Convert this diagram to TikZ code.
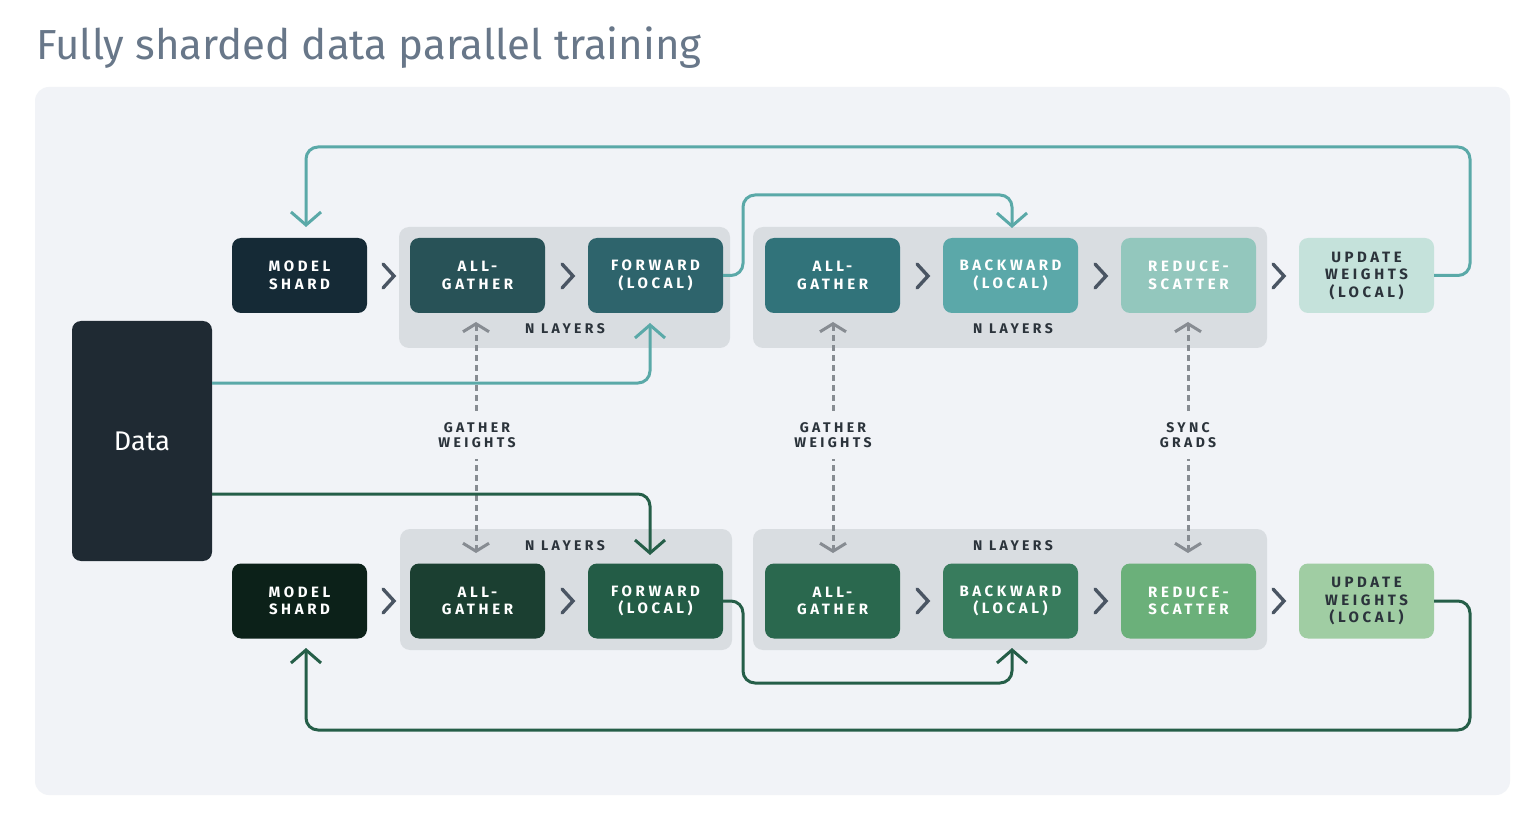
\documentclass[tikz,border=0pt]{standalone}
\usepackage{fontspec}
\setmainfont{Fira Sans}
\newfontfamily\spfont[LetterSpace=24]{Fira Sans}
\newfontfamily\sqfont[LetterSpace=24]{Fira Sans}
\usetikzlibrary{arrows.meta,calc}
\definecolor{bgpanel}{HTML}{F1F3F7}
\definecolor{grp}{HTML}{D9DDE1}
\definecolor{titlec}{HTML}{687789}
\definecolor{chevc}{HTML}{4A5563}
\definecolor{tealline}{HTML}{5AA9A8}
\definecolor{greenline}{HTML}{255E48}
\definecolor{dashc}{HTML}{878C92}
\definecolor{lbl}{HTML}{2B333B}
\definecolor{dataC}{HTML}{1F2A33}
\definecolor{tA}{HTML}{152A36}
\definecolor{tB}{HTML}{285257}
\definecolor{tC}{HTML}{2E646C}
\definecolor{tD}{HTML}{31737A}
\definecolor{tE}{HTML}{5BA8A9}
\definecolor{tF}{HTML}{93C7BD}
\definecolor{tG}{HTML}{C5E2DB}
\definecolor{gA}{HTML}{0C2119}
\definecolor{gB}{HTML}{1B3F31}
\definecolor{gC}{HTML}{235C46}
\definecolor{gD}{HTML}{2A684E}
\definecolor{gE}{HTML}{387C5D}
\definecolor{gF}{HTML}{6BB07A}
\definecolor{gG}{HTML}{A0CDA3}
\tikzset{
  box/.style={rounded corners=9pt, minimum width=135pt, minimum height=75pt, inner sep=0pt,
    text=white, align=center, font=\fontsize{15}{17.5}\selectfont\spfont\bfseries},
  grpbox/.style={fill=grp, rounded corners=10pt},
  nl/.style={text=lbl, font=\fontsize{14}{15}\selectfont\sqfont\bfseries, inner sep=0pt},
  wl/.style={text=lbl, font=\fontsize{14}{15}\selectfont\sqfont\bfseries, fill=bgpanel, align=center, inner sep=0pt, minimum height=48pt, minimum width=80pt},
  conn/.style={line width=3pt, rounded corners=12pt, -{Straight Barb[length=13pt,width=30pt]}},
  tl/.style={conn, draw=tealline},
  gl/.style={conn, draw=greenline},
  dsh/.style={line width=3pt, draw=dashc, dash pattern=on 6pt off 4pt,
    {Straight Barb[length=8pt,width=26pt]}-{Straight Barb[length=8pt,width=26pt]}},
  chev/.pic={\draw[chevc, line width=3.4pt, line cap=round, line join=miter] (-5,-12) -- (6,0) -- (-5,12);}
}
\begin{document}
\begin{tikzpicture}[x=1pt,y=-1pt]
\useasboundingbox (0,0) rectangle (1532,834);
\fill[white] (0,0) rectangle (1532,834);
\node[anchor=base west, inner sep=0pt, text=titlec, font=\fontsize{42}{46}\selectfont] (title) at (36,60) {Fully sharded data parallel training};
\fill[bgpanel, rounded corners=14pt] (35,87) rectangle (1510,795);

% group backgrounds
\fill[grpbox] (399,227) rectangle (730,348);
\fill[grpbox] (753,227) rectangle (1267,348);
\fill[grpbox] (400,529) rectangle (732,650);
\fill[grpbox] (753,529) rectangle (1267,650);

% data
\node[rounded corners=9pt, fill=dataC, minimum width=140pt, minimum height=240pt, text=white, font=\fontsize{27}{30}\selectfont] (data) at (142,441) {Data};

% top row
\node[box, fill=tA] (ms1) at (299.5,275.5) {MODEL\\SHARD};
\node[box, fill=tB] (ag1) at (477.5,275.5) {ALL-\\GATHER};
\node[box, fill=tC] (fw1) at (655.5,275.5) {FORWARD\\(LOCAL)};
\node[box, fill=tD] (ag2) at (832.5,275.5) {ALL-\\GATHER};
\node[box, fill=tE] (bw1) at (1010.5,275.5) {BACKWARD\\(LOCAL)};
\node[box, fill=tF] (rs1) at (1188.5,275.5) {REDUCE-\\SCATTER};
\node[box, fill=tG, text=lbl] (up1) at (1366.5,275.5) {UPDATE\\WEIGHTS\\(LOCAL)};

% bottom row
\node[box, fill=gA] (ms2) at (299.5,601) {MODEL\\SHARD};
\node[box, fill=gB] (ag3) at (477.5,601) {ALL-\\GATHER};
\node[box, fill=gC] (fw2) at (655.5,601) {FORWARD\\(LOCAL)};
\node[box, fill=gD] (ag4) at (832.5,601) {ALL-\\GATHER};
\node[box, fill=gE] (bw2) at (1010.5,601) {BACKWARD\\(LOCAL)};
\node[box, fill=gF] (rs2) at (1188.5,601) {REDUCE-\\SCATTER};
\node[box, fill=gG, text=lbl] (up2) at (1366.5,601) {UPDATE\\WEIGHTS\\(LOCAL)};

% N LAYERS labels
\node[nl] (nl1) at (565,329) {N LAYERS};
\node[nl] (nl2) at (1013,329) {N LAYERS};
\node[nl] (nl3) at (565,546) {N LAYERS};
\node[nl] (nl4) at (1013,546) {N LAYERS};

% chevrons
\foreach \x in {388,567,922,1100,1278}{
  \pic at (\x,276) {chev};
  \pic at (\x,601) {chev};
}

% dashed sync arrows
\coordinate (d1t) at (476,322); \coordinate (d1b) at (476,553);
\coordinate (d2t) at (833,322); \coordinate (d2b) at (833,553);
\coordinate (d3t) at (1188,322); \coordinate (d3b) at (1188,553);
\draw[dsh] (d1t) -- (d1b);
\draw[dsh] (d2t) -- (d2b);
\draw[dsh] (d3t) -- (d3b);
\node[wl] (w1) at (477,435) {GATHER\\WEIGHTS};
\node[wl] (w2) at (833,435) {GATHER\\WEIGHTS};
\node[wl] (w3) at (1188,435) {SYNC\\GRADS};

% teal connectors
\draw[tl] (up1.east) -- (1470,275.5) |- (306,147) -- (306,227);
\draw[tl] (fw1.east) -- (743,275.5) |- (1012,195) -- (1012,228);
\draw[tl] (data.east |- 0,383) -| (650,323);
% green connectors
\draw[gl] (data.east |- 0,494) -| (650,555);
\draw[gl] (fw2.east) -- (743,601) |- (1012,683) -- (1012,648);
\draw[gl] (up2.east) -- (1470,601) |- (306,730) -- (306,648);
\end{tikzpicture}
\end{document}
